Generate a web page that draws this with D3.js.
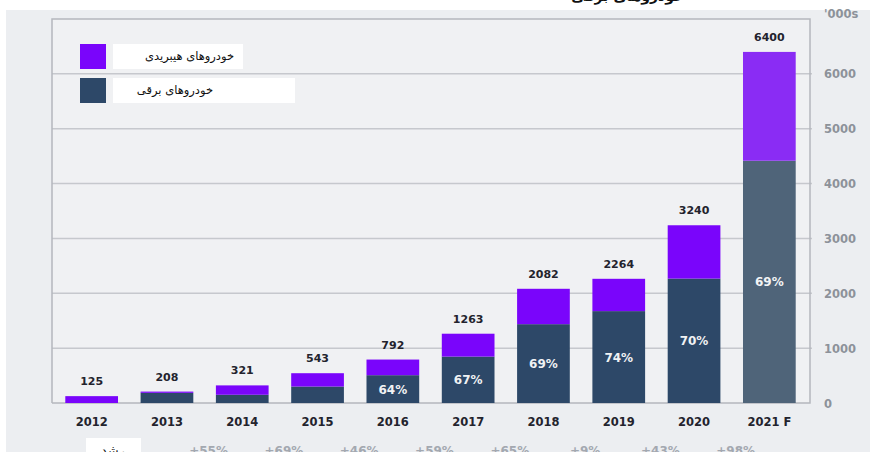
<!DOCTYPE html>
<html>
<head>
<meta charset="utf-8">
<script src="https://cdn.jsdelivr.net/npm/d3@7"></script>
<style>
  html, body { margin: 0; padding: 0; background: #ffffff; }
  svg { display: block; }
</style>
</head>
<body>
<svg id="chart" width="870" height="452"></svg>
<script>
// ---- data ----
const years = ["2012", "2013", "2014", "2015", "2016", "2017", "2018", "2019", "2020", "2021 F"];
const totals = [125, 208, 321, 543, 792, 1263, 2082, 2264, 3240, 6400];
const electric = [0, 185, 150, 300, 507, 846, 1437, 1675, 2268, 4416];
const pctLabels = ["", "", "", "", "64%", "67%", "69%", "74%", "70%", "69%"];
const growthLabels = ["", "", "+55%", "+69%", "+46%", "+59%", "+65%", "+9%", "+43%", "+98%"];
const yTicks = [0, 1000, 2000, 3000, 4000, 5000, 6000];
const legendLabels = ["خودروهای هیبریدی", "خودروهای برقی"];
const growthTitle = "رشد";
const unitLabel = "'000s";
const titleText = "خودروهای برقی";

// ---- style ----
const C = {
  hybrid: "#7a05fb",
  electric: "#2d4868",
  hybridF: "#8a2cf4",
  electricF: "#4f6479",
  outerBg: "#eceef1",
  innerBg: "#f0f1f3",
  grid: "#c6c8cd",
  frame: "#b4b7bd",
  tick: "#8d929a",
  dark: "#23232d",
  growth: "#a3a8b0"
};

const svg = d3.select("#chart");
const W = 870, H = 452;
const plot = { left: 52, right: 810, top: 19, bottom: 403 };

svg.append("rect").attr("x", 0).attr("y", 0).attr("width", W).attr("height", H).attr("fill", "#fff");
svg.append("rect").attr("x", 6).attr("y", 10).attr("width", W - 6).attr("height", H - 10).attr("fill", C.outerBg);
svg.append("rect").attr("x", plot.left).attr("y", plot.top)
  .attr("width", plot.right - plot.left).attr("height", plot.bottom - plot.top)
  .attr("fill", C.innerBg);

// cut-off title at top (only its lower part shows, as in the reference)
svg.append("text").attr("x", 684).attr("y", 1).attr("text-anchor", "end")
  .attr("font-family", "DejaVu Sans").attr("font-size", 14).attr("font-weight", "bold")
  .attr("fill", "#111").text(titleText);

const y = d3.scaleLinear().domain([0, 7000]).range([plot.bottom, plot.top]);
const x = d3.scaleBand().domain(years).range([54, 807]).paddingInner(0.3).paddingOuter(0.15);

// gridlines
svg.append("g").selectAll("line").data(yTicks.filter(d => d > 0)).join("line")
  .attr("x1", plot.left).attr("x2", plot.right + 2)
  .attr("y1", d => y(d)).attr("y2", d => y(d))
  .attr("stroke", C.grid).attr("stroke-width", 1.5);

// frame lines
svg.append("path")
  .attr("d", `M${plot.left},${plot.bottom}V${plot.top}H${plot.right}V${plot.bottom}H${plot.left}`)
  .attr("stroke", C.frame).attr("stroke-width", 1.5).attr("fill", "none");

// right axis
const axis = d3.axisRight(y).tickValues(yTicks).tickSize(0).tickPadding(0).tickFormat(d3.format("d"));
const gAxis = svg.append("g").attr("transform", `translate(${plot.right + 14},0)`).call(axis);
gAxis.select(".domain").remove();
gAxis.selectAll("text").attr("font-family", "DejaVu Sans").attr("font-weight", "bold")
  .attr("font-size", 11.5).attr("fill", C.tick).attr("dy", "0.35em");
svg.append("text").attr("x", plot.right + 14).attr("y", 18)
  .attr("font-family", "DejaVu Sans").attr("font-weight", "bold").attr("font-size", 11.5)
  .attr("fill", C.tick).text(unitLabel);

// bars
const rows = years.map((yr, i) => ({
  year: yr, total: totals[i], electric: electric[i], hybrid: totals[i] - electric[i],
  pct: pctLabels[i], growth: growthLabels[i], forecast: i === years.length - 1
}));

const gBars = svg.append("g");
gBars.selectAll("rect.el").data(rows).join("rect").attr("class", "el")
  .attr("x", d => x(d.year)).attr("width", x.bandwidth())
  .attr("y", d => y(d.electric)).attr("height", d => y(0) - y(d.electric))
  .attr("fill", d => d.forecast ? C.electricF : C.electric);
gBars.selectAll("rect.hy").data(rows).join("rect").attr("class", "hy")
  .attr("x", d => x(d.year)).attr("width", x.bandwidth())
  .attr("y", d => y(d.total)).attr("height", d => y(d.electric) - y(d.total))
  .attr("fill", d => d.forecast ? C.hybridF : C.hybrid);

// total labels
svg.append("g").selectAll("text").data(rows).join("text")
  .attr("x", d => x(d.year) + x.bandwidth() / 2).attr("y", d => y(d.total) - 11)
  .attr("text-anchor", "middle").attr("font-family", "DejaVu Sans").attr("font-weight", "bold")
  .attr("font-size", 11).attr("fill", C.dark).text(d => d.total);

// pct labels
svg.append("g").selectAll("text").data(rows.filter(d => d.pct)).join("text")
  .attr("x", d => x(d.year) + x.bandwidth() / 2)
  .attr("y", d => (y(d.electric) + y(0)) / 2)
  .attr("dy", "0.38em")
  .attr("text-anchor", "middle").attr("font-family", "DejaVu Sans").attr("font-weight", "bold")
  .attr("font-size", 12).attr("fill", "#ffffff").attr("opacity", 0.93).text(d => d.pct);

// x labels
svg.append("g").selectAll("text").data(rows).join("text")
  .attr("x", d => x(d.year) + x.bandwidth() / 2).attr("y", 426)
  .attr("text-anchor", "middle").attr("font-family", "DejaVu Sans").attr("font-weight", "bold")
  .attr("font-size", 11.5).attr("fill", C.dark).text(d => d.year);

// growth row
svg.append("rect").attr("x", 86).attr("y", 438).attr("width", 55).attr("height", 20).attr("fill", "#fff");
svg.append("text").attr("x", 113).attr("y", 455).attr("text-anchor", "middle")
  .attr("font-family", "DejaVu Sans").attr("font-size", 13).attr("fill", "#111").text(growthTitle);
svg.append("g").selectAll("text").data(rows.map((d, i) => ({ d, i })).filter(o => o.d.growth)).join("text")
  .attr("x", o => (x(years[o.i - 1]) + x(years[o.i])) / 2 + x.bandwidth() / 2 + 4)
  .attr("y", 455).attr("text-anchor", "middle")
  .attr("font-family", "DejaVu Sans").attr("font-weight", "bold").attr("font-size", 12)
  .attr("fill", C.growth).text(o => o.d.growth);

// legend
const legend = [
  { label: legendLabels[0], color: C.hybrid, y: 44, boxW: 130, textEnd: 234 },
  { label: legendLabels[1], color: C.electric, y: 78, boxW: 182, textEnd: 213 }
];
const gL = svg.append("g");
legend.forEach(l => {
  gL.append("rect").attr("x", 80).attr("y", l.y).attr("width", 26).attr("height", 25).attr("fill", l.color);
  gL.append("rect").attr("x", 113).attr("y", l.y).attr("width", l.boxW).attr("height", 25).attr("fill", "#fff");
  gL.append("text").attr("x", l.textEnd).attr("y", l.y + 16).attr("text-anchor", "end")
    .attr("font-family", "DejaVu Sans").attr("font-size", 11.5).attr("fill", "#111").text(l.label);
});
</script>
</body>
</html>
